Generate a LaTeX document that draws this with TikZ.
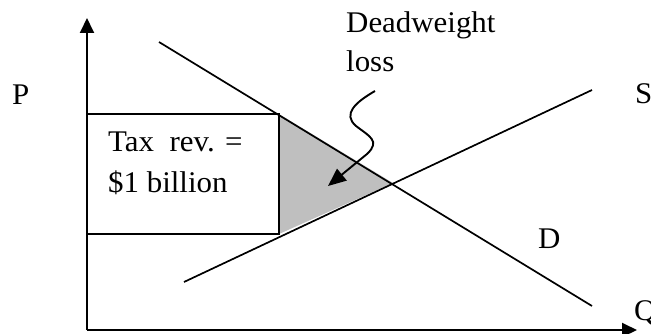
\documentclass[tikz,border=0pt]{standalone}
\usepackage{fontspec}
\setmainfont{Liberation Serif}[FakeStretch=1.03]
\usetikzlibrary{arrows.meta}
\begin{document}
\begin{tikzpicture}[x=1pt,y=-1pt,
  lbl/.style={inner sep=0pt,anchor=base west,font=\fontsize{30}{33}\selectfont},
  curve/.style={line width=1.7pt},
  axis/.style={line width=1.9pt,-{Triangle[length=15pt,width=14pt]}}]
\useasboundingbox (0,0) rectangle (651,334);
% coordinates
\coordinate (O) at (87,330);
\coordinate (Ytop) at (87,18);
\coordinate (Xend) at (637,330);
\coordinate (Dstart) at (159,42);
\coordinate (Dend) at (592,306);
\coordinate (Sstart) at (184,282);
\coordinate (Send) at (592,90);
\coordinate (E) at (393,183);
\coordinate (R1) at (87,114);
\coordinate (R2) at (279,234);
\coordinate (Ttop) at (279,114);
\coordinate (Tbot) at (279,234);
\coordinate (Wstart) at (375,91);
\coordinate (Wtip) at (328,186);
% shaded triangle
\fill[gray!50] (Ttop) -- (Tbot) -- (E) -- cycle;
% box
\draw[curve] (R1) rectangle (R2);
% curves
\draw[curve] (Dstart) -- (Dend);
\draw[curve] (Sstart) -- (Send);
% axes
\draw[axis] (O) -- (Ytop);
\draw[axis] (O) -- (Xend);
% wavy arrow
\draw[line width=1.9pt,-{Triangle[length=18pt,width=15pt]}] (Wstart)
  .. controls (356,102) and (342,114) .. (356,126)
  .. controls (369,136) and (381,141) .. (367,154) -- (Wtip);
% labels
\node[lbl] (tax1) at (108,152) {Tax\ \ rev. =};
\node[lbl] (tax2) at (108,193) {\$1 billion};
\node[lbl] (dw1) at (346,33) {Deadweight};
\node[lbl] (dw2) at (346,72) {loss};
\node[lbl] (P) at (12,105) {P};
\node[lbl] (S) at (635,104) {S};
\node[lbl] (D) at (538,248) {D};
\node[lbl] (Q) at (634,320) {Q};
\end{tikzpicture}
\end{document}
